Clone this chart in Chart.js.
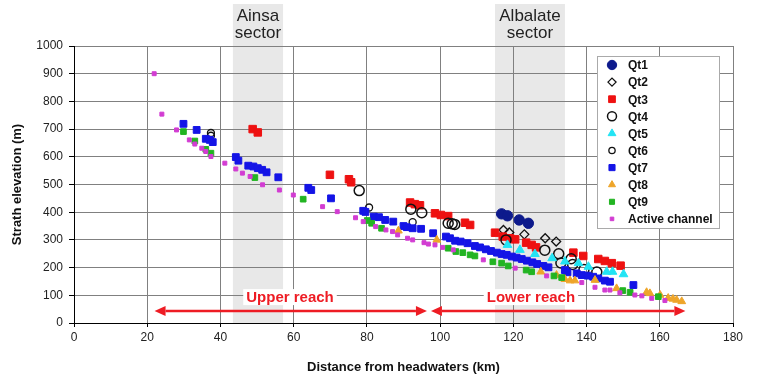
<!DOCTYPE html>
<html>
<head>
<meta charset="utf-8">
<script src="https://cdn.jsdelivr.net/npm/chart.js@4.4.0/dist/chart.umd.min.js"></script>
<style>
  html, body { margin: 0; padding: 0; background: #fff; }
  #wrap { width: 757px; height: 382px; }
</style>
</head>
<body>
<div id="wrap"><canvas id="chart" width="757" height="382"></canvas></div>
<script>
// 各段丘面のデータ [距離 km, 標高 m]
const qt1 = [[116.8, 394], [118.4, 387], [121.6, 372], [124.1, 360]];
const qt2 = [[117.3, 336], [118.9, 327], [123, 320], [128.7, 306], [131.7, 294]];
const qt3 = [[48.8, 700], [50.2, 688], [69.9, 535], [75.1, 519], [75.7, 508], [91.8, 435], [93.1, 429],
  [94.5, 425], [98.6, 396], [100.2, 390], [102.2, 386], [106.8, 362], [108.2, 354], [115, 326],
  [117.1, 312], [119.1, 306], [120.5, 302], [123.5, 290], [125, 282], [126.2, 273], [136.4, 254],
  [139.1, 242], [143.2, 231], [145, 224], [146.9, 216], [149.3, 207]];
const qt4 = [[77.9, 478], [92, 411], [95, 398], [102.2, 360], [103.3, 358], [104, 356], [118, 300],
  [128.6, 263], [132.4, 250], [133, 217], [135.8, 232], [136.2, 211], [139.3, 193], [142.8, 184]];
const qt5 = [[118.4, 282], [121.8, 264], [125.9, 249], [130.6, 234], [134.1, 222], [137.8, 216],
  [140.5, 203], [145.5, 185], [147.1, 185], [150.1, 176]];
const qt6 = [[37.4, 686], [37.4, 676], [80.6, 417], [92.5, 364]];
const qt7 = [[29.9, 719], [33.5, 697], [36, 665], [37.1, 661], [37.9, 653], [44.2, 599], [44.9, 586],
  [47.6, 568], [49, 565], [50.2, 559], [51.4, 553], [52.6, 544], [55.8, 526], [64, 488], [64.8, 480],
  [70.2, 450], [79, 405], [79.6, 401], [81.9, 384], [83.3, 382], [85, 372], [87.2, 366], [90, 350],
  [90.9, 346], [92.5, 342], [94.8, 340], [98.1, 324], [101.6, 312], [102.7, 306], [104.1, 297],
  [105.6, 294], [107.5, 288], [109.5, 278], [110.9, 273], [112.5, 266], [113.9, 260], [115.5, 254],
  [116.8, 249], [118.2, 246], [119.6, 240], [120.9, 236], [122.3, 231], [123.7, 225], [125.2, 219],
  [126.5, 213], [128.2, 206], [129.6, 201], [134.1, 191], [134.8, 183], [137.3, 179], [138.7, 173],
  [140.3, 171], [141.8, 167], [143.2, 161], [145, 153], [146.4, 149], [152.8, 137]];
const qt8 = [[88.6, 333], [99.1, 300], [127.5, 185], [131.8, 173], [134.1, 158], [135.5, 153],
  [136.8, 153], [142.3, 155], [148.2, 125], [156.4, 111], [157.3, 107], [160.1, 101], [162.3, 90],
  [163.6, 87], [164.6, 83], [166, 78]];
const qt9 = [[29.9, 691], [33, 657], [36, 627], [37.4, 613], [49.4, 525], [62.6, 447], [80.1, 370],
  [81.3, 360], [84, 342], [102.2, 270], [104.3, 258], [106.2, 254], [108.2, 246], [109.5, 242],
  [114.4, 221], [116.8, 216], [118.6, 206], [123.5, 191], [125, 185], [131.1, 170], [133.2, 164],
  [149.9, 117], [151.9, 111], [159.6, 95]];
const activeChannel = [[21.9, 900], [24, 754], [28, 697], [31.5, 661], [33, 646], [34.9, 631],
  [36, 619], [37.4, 601], [41.2, 577], [44.2, 556], [46, 541], [48.1, 529], [51.5, 499], [56.1, 480],
  [59.9, 462], [67.9, 420], [71.9, 402], [76.9, 380], [79, 366], [82.4, 348], [85.2, 336], [87, 330],
  [88.4, 318], [91.1, 306], [92.5, 300], [95.6, 290], [96.8, 285], [98.6, 282], [100.7, 273],
  [103.6, 264], [111.8, 228], [120.5, 198], [129.1, 170], [138.7, 146], [142.3, 129], [145, 119],
  [146.4, 119], [149.1, 109], [153.2, 101], [155.1, 98], [157.8, 89], [161.4, 81]];

// 区間・注記
const sectors = [
  { name: ['Ainsa', 'sector'], from: 43.4, to: 57.1 },
  { name: ['Albalate', 'sector'], from: 115, to: 134.1 },
];
const reaches = [
  { label: 'Upper reach', from: 22, to: 96.4, labelAt: 59 },
  { label: 'Lower reach', from: 97.5, to: 167, labelAt: 124.8 },
];

const series = [
  { label: 'Qt1', data: qt1, style: 'circle', r: 5.2, fill: '#0d1a8c', stroke: '#0d1a8c', bw: 1 },
  { label: 'Qt2', data: qt2, style: 'rectRot', r: 4.5, fill: 'rgba(255,255,255,0)', stroke: '#111', bw: 1.3 },
  { label: 'Qt3', data: qt3, style: 'rect', r: 5.3, fill: '#ee1111', stroke: '#ee1111', bw: 1 },
  { label: 'Qt4', data: qt4, style: 'circle', r: 5, fill: 'rgba(255,255,255,0)', stroke: '#111', bw: 1.5 },
  { label: 'Qt5', data: qt5, style: 'triangle', r: 5, fill: '#22e4f4', stroke: '#22e4f4', bw: 1 },
  { label: 'Qt6', data: qt6, style: 'circle', r: 3.5, fill: 'rgba(255,255,255,0)', stroke: '#111', bw: 1.3 },
  { label: 'Qt7', data: qt7, style: 'rect', r: 4.8, fill: '#1414e6', stroke: '#1414e6', bw: 1 },
  { label: 'Qt8', data: qt8, style: 'triangle', r: 4.5, fill: '#eea52a', stroke: '#eea52a', bw: 1 },
  { label: 'Qt9', data: qt9, style: 'rect', r: 4, fill: '#22b422', stroke: '#22b422', bw: 1 },
  { label: 'Active channel', data: activeChannel, style: 'rect', r: 2.8, fill: '#d23cd2', stroke: '#d23cd2', bw: 1 },
];

const FONT = '"Liberation Sans", Arial, sans-serif';
const ARROW_ELEV = 43;

// 灰色の区間と見出し
const sectorPlugin = {
  id: 'sectors',
  beforeDraw(chart) {
    const { ctx, chartArea, scales } = chart;
    ctx.save();
    sectors.forEach(s => {
      const x0 = scales.x.getPixelForValue(s.from);
      const x1 = scales.x.getPixelForValue(s.to);
      ctx.fillStyle = '#e8e8e8';
      ctx.fillRect(x0, 4, x1 - x0, chartArea.bottom - 4);
      ctx.fillStyle = '#222';
      ctx.font = '17px ' + FONT;
      ctx.textAlign = 'center';
      ctx.textBaseline = 'middle';
      ctx.fillText(s.name[0], (x0 + x1) / 2, 16);
      ctx.fillText(s.name[1], (x0 + x1) / 2, 33);
    });
    ctx.restore();
  },
};

// 赤い矢印と区間名
const reachPlugin = {
  id: 'reaches',
  afterDatasetsDraw(chart) {
    const { ctx, scales } = chart;
    const y = scales.y.getPixelForValue(ARROW_ELEV);
    ctx.save();
    reaches.forEach(r => {
      const x0 = scales.x.getPixelForValue(r.from);
      const x1 = scales.x.getPixelForValue(r.to);
      const head = 11, hw = 5;
      ctx.strokeStyle = '#ee1c24';
      ctx.fillStyle = '#ee1c24';
      ctx.lineWidth = 2.5;
      ctx.beginPath();
      ctx.moveTo(x0 + head, y);
      ctx.lineTo(x1 - head, y);
      ctx.stroke();
      ctx.beginPath();
      ctx.moveTo(x0, y); ctx.lineTo(x0 + head, y - hw); ctx.lineTo(x0 + head, y + hw); ctx.closePath();
      ctx.fill();
      ctx.beginPath();
      ctx.moveTo(x1, y); ctx.lineTo(x1 - head, y - hw); ctx.lineTo(x1 - head, y + hw); ctx.closePath();
      ctx.fill();

      const tx = scales.x.getPixelForValue(r.labelAt);
      const ty = y - 14;
      ctx.font = 'bold 15px ' + FONT;
      const w = ctx.measureText(r.label).width;
      ctx.fillStyle = '#fff';
      ctx.fillRect(tx - w / 2 - 3, ty - 8, w + 6, 16);
      ctx.fillStyle = '#ee1c24';
      ctx.textAlign = 'center';
      ctx.textBaseline = 'middle';
      ctx.fillText(r.label, tx, ty + 1);
    });
    ctx.restore();
  },
};

// 凡例（グラフ内に描画）
const legendPlugin = {
  id: 'boxLegend',
  afterDraw(chart) {
    const { ctx } = chart;
    const bx = 597, by = 56, bw = 122, bh = 172;
    ctx.save();
    ctx.fillStyle = '#fff';
    ctx.fillRect(bx, by, bw, bh);
    ctx.strokeStyle = '#aaa';
    ctx.lineWidth = 1;
    ctx.strokeRect(bx + 0.5, by + 0.5, bw, bh);
    series.forEach((s, i) => {
      const y = 65 + i * 17.1;
      ctx.fillStyle = s.fill;
      ctx.strokeStyle = s.stroke;
      ctx.lineWidth = s.bw;
      Chart.helpers.drawPoint(ctx, { pointStyle: s.style, radius: s.r * 0.9, borderWidth: s.bw, rotation: 0 }, 612, y);
      ctx.fillStyle = '#111';
      ctx.font = 'bold 12px ' + FONT;
      ctx.textAlign = 'left';
      ctx.textBaseline = 'middle';
      ctx.fillText(s.label, 628, y + 1);
    });
    ctx.restore();
  },
};

const datasets = series.map((s, i) => ({
  label: s.label,
  data: s.data.map(p => ({ x: p[0], y: p[1] })),
  pointStyle: s.style,
  pointRadius: s.r,
  pointBackgroundColor: s.fill,
  pointBorderColor: s.stroke,
  pointBorderWidth: s.bw,
  showLine: false,
  order: series.length - i,
}));

new Chart(document.getElementById('chart'), {
  type: 'scatter',
  data: { datasets },
  options: {
    responsive: false,
    devicePixelRatio: 1,
    animation: false,
    events: [],
    layout: { padding: { top: 46, right: 24, left: 0, bottom: 0 } },
    plugins: { legend: { display: false }, tooltip: { enabled: false } },
    scales: {
      x: {
        type: 'linear',
        min: 0, max: 180,
        ticks: { stepSize: 20, color: '#222', font: { family: FONT, size: 12 }, padding: 3, maxRotation: 0,
          callback: v => String(v) },
        grid: { color: '#808080', tickColor: '#000', tickLength: 4 },
        border: { color: '#000' },
        title: {
          display: true, text: 'Distance from headwaters (km)', color: '#111',
          font: { family: FONT, size: 13, weight: 'bold' }, padding: { top: 4, bottom: 7 },
        },
        afterFit(scale) { scale.height = 59; },
      },
      y: {
        min: 0, max: 1000,
        ticks: { stepSize: 100, color: '#222', font: { family: FONT, size: 12 }, padding: 6,
          callback: v => String(v) },
        grid: { color: '#808080', tickColor: '#000', tickLength: 5 },
        border: { color: '#000' },
        title: {
          display: true, text: 'Strath elevation (m)', color: '#111',
          font: { family: FONT, size: 13, weight: 'bold' }, padding: { top: 10, bottom: 4 },
        },
        afterFit(scale) { scale.width = 74; },
      },
    },
  },
  plugins: [sectorPlugin, reachPlugin, legendPlugin],
});
</script>
</body>
</html>
